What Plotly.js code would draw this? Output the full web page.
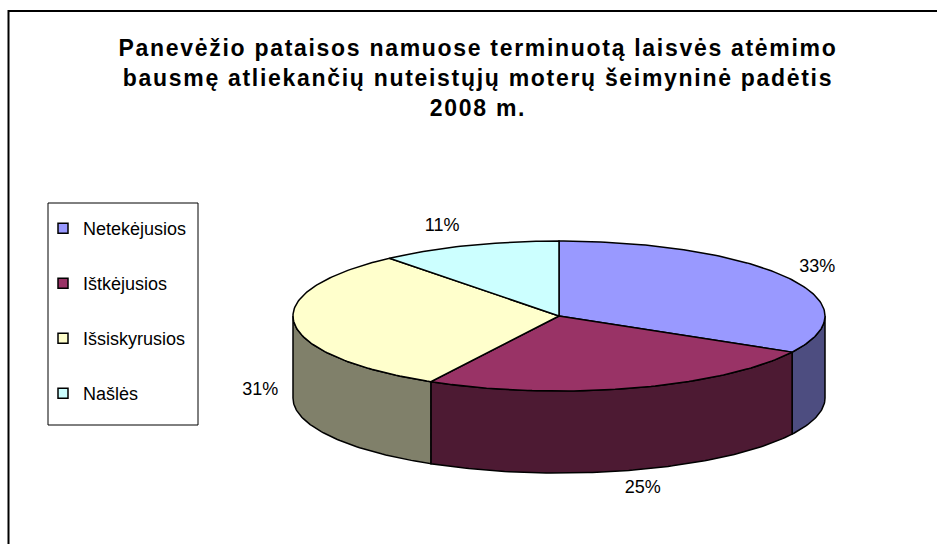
<!DOCTYPE html>
<html><head><meta charset="utf-8">
<script src="https://cdn.plot.ly/plotly-3.0.1.min.js"></script>
<style>html,body{margin:0;padding:0;background:#fff;} .gtitle{letter-spacing:1.7px;}</style>
</head><body><div id="chart" style="width:937px;height:544px;"></div>
<script>
const categories = ['Netekėjusios', 'Ištkėjusios', 'Išsiskyrusios', 'Našlės'];
const values = [33, 25, 31, 11];
const topColors = ['#9999FF', '#993366', '#FFFFCC', '#CCFFFF'];
const sideColors = ['#4D4D80', '#4D1A33', '#80806A', '#668080'];

const W = 937, H = 544;
const CX = 559, CY = 316, RX = 266, RY = 75, DEPTH = 82;
const total = values.reduce((a, b) => a + b, 0);

function pt(deg, dy) { const r = deg * Math.PI / 180; return [CX + RX * Math.sin(r), CY - RY * Math.cos(r) + (dy || 0)]; }
function arc(a, b, dy) {
  const xs = [], ys = []; const n = Math.max(2, Math.ceil(Math.abs(b - a)));
  for (let i = 0; i <= n; i++) { const p = pt(a + (b - a) * i / n, dy); xs.push(p[0]); ys.push(p[1]); }
  return [xs, ys];
}

const bounds = [];
let start = 0;
values.forEach(v => { const b = start + v / total * 360; bounds.push([start, b]); start = b; });

const traces = [];
// side faces (front half only)
bounds.forEach(([a, b], i) => {
  const s = Math.max(a, 90), e = Math.min(b, 270);
  if (e <= s) return;
  const [tx, ty] = arc(s, e, 0); const [bx, by] = arc(e, s, DEPTH);
  traces.push({type: 'scatter', mode: 'lines', x: tx.concat(bx, [tx[0]]), y: ty.concat(by, [ty[0]]),
    fill: 'toself', fillcolor: sideColors[i], line: {color: '#000', width: 1.5}, showlegend: false, hoverinfo: 'skip'});
});
// top faces
bounds.forEach(([a, b], i) => {
  const [tx, ty] = arc(a, b, 0);
  traces.push({type: 'scatter', mode: 'lines', x: [CX].concat(tx, [CX]), y: [CY].concat(ty, [CY]),
    fill: 'toself', fillcolor: topColors[i], line: {color: '#000', width: 1.5}, name: categories[i],
    showlegend: false, hoveron: 'fills', hoverinfo: 'name'});
});
// percentage labels
const lx = [], ly = [], lt = [];
bounds.forEach(([a, b], i) => {
  const m = (a + b) / 2 * Math.PI / 180, s = Math.sin(m), c = Math.cos(m);
  const k = c < 0 ? DEPTH * (0.78 + 0.22 * (-c)) : 0;
  const r = c > 0.8 ? 345 : 300;
  lx.push(CX + r * s); ly.push(CY - 95 * c + k); lt.push(Math.round(values[i] / total * 100) + '%');
});
traces.push({type: 'scatter', mode: 'text', x: lx, y: ly, text: lt, textposition: 'middle center',
  textfont: {family: 'Arial', size: 18, color: '#000'}, showlegend: false, hoverinfo: 'skip'});
// legend entries
categories.forEach((c, i) => traces.push({type: 'scatter', mode: 'markers', x: [null], y: [null], name: c,
  legendgroup: 'g' + i, marker: {symbol: 'square', size: 10, color: topColors[i], line: {color: '#000', width: 1.5}}}));

const layout = {
  width: W, height: H, margin: {l: 0, r: 0, t: 0, b: 0},
  paper_bgcolor: '#fff', plot_bgcolor: 'rgba(0,0,0,0)',
  xaxis: {range: [0, W], visible: false, fixedrange: true},
  yaxis: {range: [H, 0], visible: false, fixedrange: true},
  title: {text: 'Panevėžio pataisos namuose terminuotą laisvės atėmimo<br>bausmę atliekančių nuteistųjų moterų šeimyninė padėtis<br>2008 m.',
    font: {family: 'Arial', size: 23, color: '#000', weight: 'bold'},
    xref: 'paper', yref: 'paper', x: 478 / W, xanchor: 'center', y: 1 - 56 / H, yanchor: 'top'},
  showlegend: true,
  legend: {x: 43 / W, y: 1 - 210 / H, xanchor: 'left', yanchor: 'top', font: {family: 'Arial', size: 18, color: '#000'},
    bgcolor: 'rgba(0,0,0,0)', borderwidth: 0, traceorder: 'grouped', tracegroupgap: 28.6},
  shapes: [
    {type: 'line', xref: 'x', yref: 'y', x0: 8.5, x1: 8.5, y0: 10, y1: H, line: {color: '#000', width: 2}},
    {type: 'line', xref: 'x', yref: 'y', x0: 8, x1: W, y0: 11, y1: 11, line: {color: '#000', width: 2}},
    {type: 'rect', xref: 'x', yref: 'y', x0: 48, x1: 198, y0: 203, y1: 425, line: {color: '#000', width: 1}}
  ]
};
Plotly.newPlot('chart', traces, layout, {displayModeBar: false});
</script></body></html>
